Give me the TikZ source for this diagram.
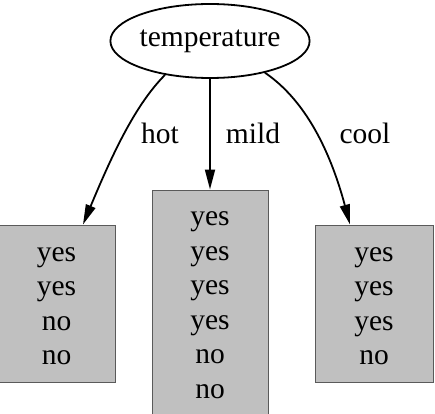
\documentclass[tikz,border=0pt]{standalone}
\usepackage{fontspec}
\setmainfont{Liberation Serif}
\usetikzlibrary{shapes.geometric,arrows.meta}
\definecolor{boxfill}{RGB}{192,192,192}
\definecolor{boxline}{RGB}{90,90,90}
\tikzset{
  txt/.style={font=\fontsize{29.5}{34.5}\selectfont, inner sep=0pt},
  leaf/.style={draw=boxline, line width=1pt, fill=boxfill, minimum width=#1, inner sep=0pt},
  leaftext/.style={txt, align=center, yshift=-2.5pt},
  attr/.style={txt, draw, ellipse, line width=1.8pt, minimum width=194pt, minimum height=74pt},
  arr/.style={line width=1.8pt, -{Triangle[length=20pt,width=10pt]}},
  lbl/.style={txt}
}
\begin{document}
\begin{tikzpicture}[x=1pt,y=1pt]
\useasboundingbox (0,0) rectangle (435,413);
\begin{scope}
\clip (0,0) rectangle (435,413);
\node[attr] (temp) at (210,372) {temperature};
\node[leaf=119pt, minimum height=157pt,
  label={[leaftext, xshift=1pt]center:yes\\yes\\no\\no}] (lbox) at (55.5,109.5) {};
\node[leaf=116pt, minimum height=240pt,
  label={[leaftext, yshift=7.5pt]center:yes\\yes\\yes\\yes\\no\\no}] (mbox) at (210,103) {};
\node[leaf=118pt, minimum height=157pt,
  label={[leaftext]center:yes\\yes\\yes\\no}] (rbox) at (374,109.5) {};
\draw[arr] (temp.217) .. controls (135,308) and (112,258) .. ([xshift=27.5pt]lbox.north);
\draw[arr] (temp.south) -- (mbox.north);
\draw[arr] (temp.330) .. controls (305,313) and (330,263) .. ([xshift=-24pt]rbox.north);
\node[lbl] (hot) at (160,280) {hot};
\node[lbl] (mild) at (253,280) {mild};
\node[lbl] (cool) at (365,280) {cool};
\end{scope}
\end{tikzpicture}
\end{document}
